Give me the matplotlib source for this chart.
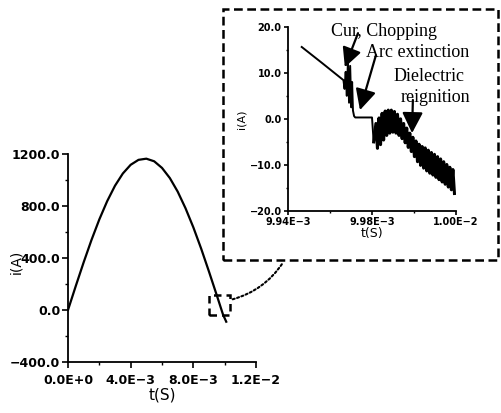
import numpy as np
import matplotlib
matplotlib.use('Agg')
import matplotlib.pyplot as plt
from matplotlib.patches import Rectangle, FancyArrowPatch
from matplotlib.ticker import FixedLocator, FixedFormatter, MultipleLocator

# full half cycle of the interrupted current (t in ms, i in A)
main_t_ms = [0.0, 0.5, 1.0, 1.5, 2.0, 2.5, 3.0, 3.5, 4.0, 4.5, 5.0, 5.5,
             6.0, 6.5, 7.0, 7.5, 8.0, 8.5, 9.0, 9.5, 9.9, 10.1]
main_i = [0, 186, 367, 539, 697, 837, 956, 1050, 1117, 1155, 1164, 1144,
          1093, 1015, 911, 783, 636, 472, 295, 112, -37, -90]

main_xticks = [0.0, 4.0e-3, 8.0e-3, 1.2e-2]
main_xlabels = ['0.0E+0', '4.0E\u22123', '8.0E\u22123', '1.2E\u22122']
main_yticks = [-400, 0, 400, 800, 1200]
main_ylabels = ['\u2212400.0', '0.0', '400.0', '800.0', '1200.0']

# zoom around current zero: approach, chopping, arc extinction
pre_t_ms = [9.9449, 9.9520, 9.9598, 9.9602, 9.9606, 9.9610, 9.9614, 9.9618,
            9.9622, 9.9626, 9.9629, 9.9632, 9.9636, 9.9640, 9.9670, 9.9700,
            9.9706]
pre_i = [15.6, 12.2, 8.4, 6.5, 10.2, 5.0, 12.5, 3.5, 11.5, 2.5, 8.0, 1.8,
         0.6, 0.3, 0.3, 0.3, -5.0]

# high frequency ringing after reignition: crest and trough per cycle
peak_t_ms = [9.9714, 9.9725, 9.9736, 9.9747, 9.9758, 9.9769, 9.9780, 9.9791,
             9.9802, 9.9813, 9.9824, 9.9835, 9.9846, 9.9857, 9.9868, 9.9879,
             9.9890, 9.9901, 9.9912, 9.9923, 9.9934, 9.9945, 9.9956, 9.9967,
             9.9978, 9.9989]
peak_i = [-1.0, 0.2, 1.2, 1.7, 1.9, 1.9, 1.6, 1.0, 0.0, -1.0, -2.0, -3.1,
          -4.0, -4.8, -5.5, -6.0, -6.3, -6.8, -7.3, -7.7, -8.2, -8.7, -9.3,
          -9.9, -10.5, -11.0]
trough_t_ms = [9.97195, 9.97305, 9.97415, 9.97525, 9.97635, 9.97745, 9.97855,
               9.97965, 9.98075, 9.98185, 9.98295, 9.98405, 9.98515, 9.98625,
               9.98735, 9.98845, 9.98955, 9.99065, 9.99175, 9.99285, 9.99395,
               9.99505, 9.99615, 9.99725, 9.99835, 9.99945]
trough_i = [-6.4, -5.6, -4.6, -3.6, -3.1, -2.9, -3.1, -3.6, -4.3, -5.2, -6.2,
            -7.1, -8.2, -9.3, -10.1, -10.7, -11.3, -11.8, -12.2, -12.7, -13.2,
            -13.7, -14.2, -14.8, -15.4, -16.2]

zoom_xticks = [9.94e-3, 9.97e-3, 1.0e-2]
zoom_xlabels = ['9.94E\u22123', '9.98E\u22123', '1.00E\u22122']
zoom_yticks = [-20, -10, 0, 10, 20]
zoom_ylabels = ['\u221220.0', '\u221210.0', '0.0', '10.0', '20.0']

W, H = 501, 413


def fig_xy(x, y):
    ''' pixel position (origin top left) to figure fraction '''
    return x / W, 1 - y / H


def style_axes(ax, size, length):
    for side in ('top', 'right'):
        ax.spines[side].set_visible(False)
    for side in ('left', 'bottom'):
        ax.spines[side].set_linewidth(1.3)
    ax.tick_params(which='major', direction='out', length=length, width=1.2,
                   labelsize=size, pad=1.5)
    ax.tick_params(which='minor', direction='out', length=length * 0.6, width=1.0)
    for lbl in ax.get_xticklabels() + ax.get_yticklabels():
        lbl.set_fontweight('bold')


fig = plt.figure(figsize=(W / 100, H / 100), dpi=100)

# main plot
ax = fig.add_axes([68 / W, 1 - 362 / H, (256 - 68) / W, (362 - 154) / H])
ax.plot(np.array(main_t_ms) * 1e-3, main_i, color='black', lw=1.6)
ax.set_xlim(0, 1.2e-2)
ax.set_ylim(-400, 1200)
ax.xaxis.set_major_locator(FixedLocator(main_xticks))
ax.xaxis.set_major_formatter(FixedFormatter(main_xlabels))
ax.yaxis.set_major_locator(FixedLocator(main_yticks))
ax.yaxis.set_major_formatter(FixedFormatter(main_ylabels))
ax.xaxis.set_minor_locator(MultipleLocator(2e-3))
ax.yaxis.set_minor_locator(MultipleLocator(200))
style_axes(ax, 9, 4)
ax.tick_params(axis='x', which='major', pad=5)
ax.set_xlabel('t(S)', fontsize=11, labelpad=0)
fig.text(*fig_xy(16, 262), 'i(A)', rotation=90, fontsize=10,
         ha='center', va='center')

# marker box around current zero
ax.add_patch(Rectangle((8.98e-3, -38), 1.34e-3, 153, fill=False,
                       edgecolor='black', lw=1.8, ls=(0, (3, 2)),
                       clip_on=False, zorder=3))

# inset with the zoomed current zero
axz = fig.add_axes([288 / W, 1 - 211 / H, (456 - 288) / W, (211 - 26.7) / H])
zoom_t = np.array(pre_t_ms) * 1e-3
axz.plot(zoom_t, pre_i, color='black', lw=1.4)
ring_t, ring_i = [pre_t_ms[-1]], [pre_i[-1]]
for tp, ip, tt, it in zip(peak_t_ms, peak_i, trough_t_ms, trough_i):
    ring_t += [tp, tt]
    ring_i += [ip, it]
axz.plot(np.array(ring_t) * 1e-3, ring_i, color='black', lw=2.2)
axz.set_xlim(9.94e-3, 1.0e-2)
axz.set_ylim(-20, 20)
axz.xaxis.set_major_locator(FixedLocator(zoom_xticks))
axz.xaxis.set_major_formatter(FixedFormatter(zoom_xlabels))
axz.yaxis.set_major_locator(FixedLocator(zoom_yticks))
axz.yaxis.set_major_formatter(FixedFormatter(zoom_ylabels))
axz.xaxis.set_minor_locator(FixedLocator([9.955e-3, 9.985e-3]))
axz.yaxis.set_minor_locator(MultipleLocator(5))
style_axes(axz, 7, 3)
axz.set_xlabel('t(S)', fontsize=9, labelpad=0)
axz.set_ylabel('i(A)', fontsize=8, labelpad=2)

serif = dict(family='Liberation Serif', fontsize=13, ha='center', va='center')
arrow = dict(arrowstyle='-|>,head_length=0.9,head_width=0.45',
             color='black', lw=1.6, shrinkA=0, shrinkB=0)
axz.text(9.9743e-3, 19.0, 'Cur, Chopping', clip_on=False, **serif)
axz.text(9.9862e-3, 14.3, 'Arc extinction', clip_on=False, **serif)
axz.text(9.9903e-3, 9.3, 'Dielectric', clip_on=False, **serif)
axz.text(9.9928e-3, 4.6, 'reignition', clip_on=False, **serif)
axz.annotate('', xy=(9.9603e-3, 11.2), xytext=(9.9650e-3, 18.6),
             arrowprops=dict(arrow, mutation_scale=13))
axz.annotate('', xy=(9.9657e-3, 1.9), xytext=(9.9714e-3, 13.8),
             arrowprops=dict(arrow, mutation_scale=14))
axz.annotate('', xy=(9.9843e-3, -3.1), xytext=(9.9846e-3, 4.1),
             arrowprops=dict(arrow, mutation_scale=14))

# dashed frame round the inset and dotted link to the marker box
x0, y0 = fig_xy(223, 260)
x1, y1 = fig_xy(498, 9)
fig.patches.append(Rectangle((x0, y0), x1 - x0, y1 - y0, fill=False,
                             edgecolor='black', lw=1.8, ls=(0, (3.5, 1.8)),
                             transform=fig.transFigure, figure=fig))
fig.patches.append(FancyArrowPatch(fig_xy(230, 300), fig_xy(284, 261),
                                   arrowstyle='-', connectionstyle='arc3,rad=0.2',
                                   color='black', lw=1.5, ls=(0, (1, 1.2)),
                                   transform=fig.transFigure, figure=fig))

fig.savefig('out.png', dpi=100)
